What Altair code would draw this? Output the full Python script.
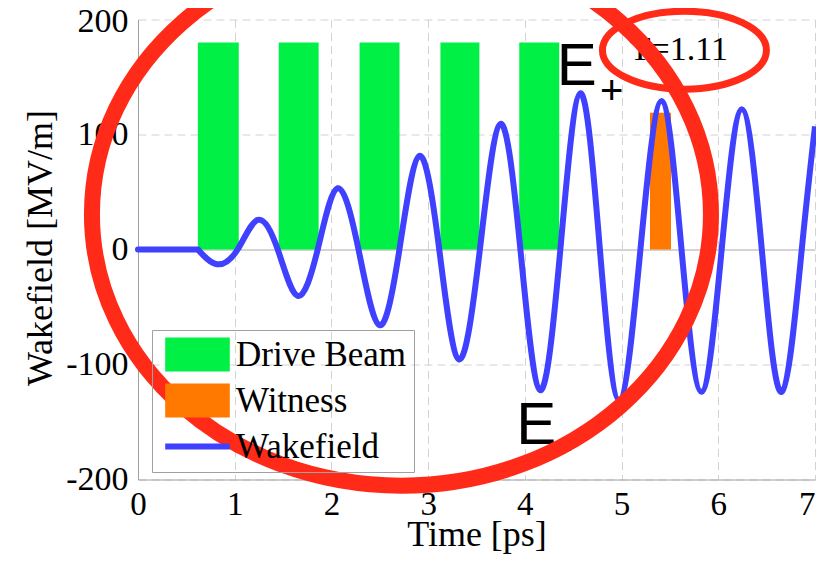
import altair as alt
import pandas as pd

# ---------------- data ----------------
drive_start = [0.619, 1.455, 2.291, 3.127, 3.942]
drive_end = [1.042, 1.868, 2.704, 3.530, 4.355]
drive_top = [180, 180, 180, 180, 180]

witness_start = [5.294]
witness_end = [5.511]
witness_top = [119]

flat_t = [0.0, 0.619]
flat_v = [0.0, 0.0]

wake_t = [0.619, 0.815, 1.03, 1.238, 1.445, 1.651, 1.858, 2.064, 2.28, 2.497,
          2.703, 2.91, 3.115, 3.32, 3.535, 3.749, 3.954, 4.159, 4.367, 4.575,
          4.776, 4.977, 5.195, 5.414, 5.62, 5.827, 6.035, 6.243, 6.45, 6.656,
          6.863, 7.0]
wake_v = [0, -12.8, 0, 25.7, 0, -40.3, 0, 53.3, 0, -65.8,
          0, 81.4, 0, -95.7, 0, 109.2, 0, -122.3, 0, 135.9,
          0, -131, 0, 129.2, 0, -123.8, 0, 122, 0, -123.8,
          0, 107]

series_names = ["Drive Beam", "Witness", "Wakefield"]
series_colors = ["#00f046", "#ff7800", "#4040ff"]

x_ticks = [0, 1, 2, 3, 4, 5, 6, 7]
y_ticks = [-200, -100, 0, 100, 200]

e_t = [4.329, 3.912]
e_v = [143.1, -169.3]
sub_text = ["+", "\u2212"]
sub_t = [4.897, 4.376]
sub_v = [137.2, -175.4]
ratio_text = ["T=1.11"]
ratio_t = [5.593]
ratio_v = [164.6]

ring_big_t = [2.724]
ring_big_v = [30.7]
ring_small_t = [5.650]
ring_small_v = [173.3]

# ---------------- tables ----------------
bars = pd.DataFrame({
    "series": ["Drive Beam"] * len(drive_start) + ["Witness"] * len(witness_start),
    "start": drive_start + witness_start,
    "end": drive_end + witness_end,
    "top": drive_top + witness_top,
    "base": [0] * (len(drive_start) + len(witness_start)),
})
flat = pd.DataFrame({"t": flat_t, "v": flat_v})
wake = pd.DataFrame({"t": wake_t, "v": wake_v})
etab = pd.DataFrame({"t": e_t, "v": e_v, "txt": ["E", "E"]})
subtab = pd.DataFrame({"t": sub_t, "v": sub_v, "txt": sub_text})
ratiotab = pd.DataFrame({"t": ratio_t, "v": ratio_v, "txt": ratio_text})
ring_big = pd.DataFrame({"t": ring_big_t, "v": ring_big_v})
ring_small = pd.DataFrame({"t": ring_small_t, "v": ring_small_v})

RED = "#ff2a18"
BLUE = "#4040ff"
SERIF = "Liberation Serif, Times New Roman, serif"
SANS = "Liberation Sans, Arial, sans-serif"


def ellipse_path(b):
    k = 0.5523
    return (f"M1,0C1,{k*b:.4f} {k},{b:.4f} 0,{b:.4f}"
            f"C{-k},{b:.4f} -1,{k*b:.4f} -1,0"
            f"C-1,{-k*b:.4f} {-k},{-b:.4f} 0,{-b:.4f}"
            f"C{k},{-b:.4f} 1,{-k*b:.4f} 1,0Z")


xscale = alt.Scale(domain=[0, 7], nice=False, zero=False)
yscale = alt.Scale(domain=[-200, 200], nice=False, zero=False)

x_axis = alt.Axis(values=x_ticks, title="Time [ps]", labelPadding=9, labelFontSize=33,
                  labelExpr="'' + datum.value", labelFlush=False,
                  labelAlign=alt.condition("datum.value == 7", alt.value("right"), alt.value("center")),
                  titleY=66, titleBaseline="alphabetic",
                  gridDash=[8, 5])
y_axis = alt.Axis(values=y_ticks, title="Wakefield [MV/m]", labelPadding=10,
                  labelExpr="'' + datum.value", labelFlush=False,
                  labelOffset=alt.condition("datum.value == 200", alt.value(2), alt.value(0)),
                  titleX=-86.5, titleY=228, titleAngle=-90,
                  titleBaseline="alphabetic", titleAlign="center",
                  gridDash=alt.condition("datum.value == 0", alt.value([]), alt.value([8, 5])),
                  gridColor=alt.condition("datum.value == 0", alt.value("#a8a8a8"), alt.value("#d2d2d2")))

rect_path = "M-1.9,-1L1.9,-1L1.9,1L-1.9,1Z"
line_path = "M-1.9,-0.18L1.9,-0.18L1.9,0.18L-1.9,0.18Z"

legend = alt.Legend(
    title=None, orient="none", legendX=14, legendY=310.5,
    padding=7, strokeColor="#a0a0a0",
    labelFont=SERIF, labelFontSize=35, labelColor="black", labelLimit=400,
    symbolSize=1156, symbolOffset=21, labelOffset=21, rowPadding=10,
    symbolStrokeWidth=0,
    symbolType={"expr": f"datum.value === 'Wakefield' ? '{line_path}' : '{rect_path}'"},
)

color = alt.Color("series:N", scale=alt.Scale(domain=series_names, range=series_colors),
                  legend=legend)

bar_layer = alt.Chart(bars).mark_rect(opacity=1).encode(
    x=alt.X("start:Q", scale=xscale, axis=x_axis),
    x2="end:Q",
    y=alt.Y("base:Q", scale=yscale, axis=y_axis),
    y2="top:Q",
    color=color,
)

flat_layer = alt.Chart(flat).mark_line(color=BLUE, strokeWidth=6, strokeCap="round").encode(
    x=alt.X("t:Q", scale=xscale), y=alt.Y("v:Q", scale=yscale))

wake_layer = alt.Chart(wake).mark_line(color=BLUE, strokeWidth=6, strokeCap="butt",
                                       strokeJoin="round", interpolate="natural").encode(
    x=alt.X("t:Q", scale=xscale), y=alt.Y("v:Q", scale=yscale))

e_layer = alt.Chart(etab).mark_text(font=SANS, fontSize=60, align="left",
                                    baseline="alphabetic", color="black").encode(
    x=alt.X("t:Q", scale=xscale), y=alt.Y("v:Q", scale=yscale), text="txt:N")

sub_layer = alt.Chart(subtab).mark_text(font=SANS, fontSize=40, align="center",
                                        baseline="middle", color="black").encode(
    x=alt.X("t:Q", scale=xscale), y=alt.Y("v:Q", scale=yscale), text="txt:N")

ratio_layer = alt.Chart(ratiotab).mark_text(font=SERIF, fontSize=34, align="center",
                                            baseline="alphabetic", color="black").encode(
    x=alt.X("t:Q", scale=xscale), y=alt.Y("v:Q", scale=yscale), text="txt:N")

big_ring = alt.Chart(ring_big).mark_point(
    shape=ellipse_path(271.5 / 309.5), size=619 ** 2, filled=False,
    stroke=RED, strokeWidth=16, opacity=1).encode(
    x=alt.X("t:Q", scale=xscale), y=alt.Y("v:Q", scale=yscale))

small_ring = alt.Chart(ring_small).mark_point(
    shape=ellipse_path(39 / 82), size=164 ** 2, filled=False,
    stroke=RED, strokeWidth=7, opacity=1).encode(
    x=alt.X("t:Q", scale=xscale), y=alt.Y("v:Q", scale=yscale))

chart = alt.layer(
    bar_layer, flat_layer, wake_layer, e_layer, sub_layer, ratio_layer,
    big_ring, small_ring,
).properties(
    width=677, height=460,
    autosize=alt.AutoSizeParams(type="none"),
    padding={"left": 130, "top": 11.5, "right": 1, "bottom": 74.5},
    background="white",
).configure_view(stroke=None).configure_axis(
    labelFont=SERIF, labelFontSize=34, labelColor="black",
    titleFont=SERIF, titleFontSize=36, titleFontWeight="normal", titleColor="black",
    domainColor="#a0a0a0", domainWidth=1, ticks=False,
    gridColor="#d2d2d2", gridWidth=1,
)

chart.save("out.html", embed_options={"renderer": "svg", "actions": False})
